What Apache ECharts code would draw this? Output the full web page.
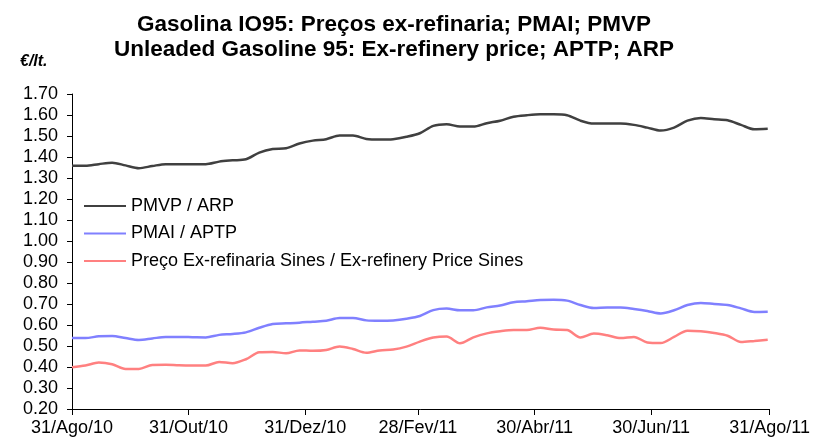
<!DOCTYPE html>
<html>
<head>
<meta charset="utf-8">
<script src="https://cdn.jsdelivr.net/npm/echarts@6/dist/echarts.min.js"></script>
<style>
  html, body { margin: 0; padding: 0; background: #fff; }
  #chart { width: 813px; height: 439px; }
</style>
</head>
<body>
<div id="chart"></div>
<script>
// semanas (terças-feiras)
var dates = [
  '2010-08-31', '2010-09-07', '2010-09-14', '2010-09-21', '2010-09-28', '2010-10-05', '2010-10-12',
  '2010-10-19', '2010-10-26', '2010-11-02', '2010-11-09', '2010-11-16', '2010-11-23', '2010-11-30',
  '2010-12-07', '2010-12-14', '2010-12-21', '2010-12-28', '2011-01-04', '2011-01-11', '2011-01-18',
  '2011-01-25', '2011-02-01', '2011-02-08', '2011-02-15', '2011-02-22', '2011-03-01', '2011-03-08',
  '2011-03-15', '2011-03-22', '2011-03-29', '2011-04-05', '2011-04-12', '2011-04-19', '2011-04-26',
  '2011-05-03', '2011-05-10', '2011-05-17', '2011-05-24', '2011-05-31', '2011-06-07', '2011-06-14',
  '2011-06-21', '2011-06-28', '2011-07-05', '2011-07-12', '2011-07-19', '2011-07-26', '2011-08-02',
  '2011-08-09', '2011-08-16', '2011-08-23', '2011-08-30'
];

var pmvp = [
  1.358, 1.358, 1.366, 1.373, 1.360, 1.347, 1.357, 1.366, 1.366, 1.366, 1.366, 1.378, 1.384, 1.389,
  1.421, 1.438, 1.442, 1.464, 1.478, 1.485, 1.502, 1.502, 1.486, 1.483, 1.485, 1.496, 1.513, 1.548,
  1.556, 1.545, 1.545, 1.561, 1.573, 1.592, 1.599, 1.603, 1.603, 1.599, 1.573, 1.559, 1.560, 1.560,
  1.553, 1.540, 1.526, 1.540, 1.573, 1.586, 1.580, 1.575, 1.553, 1.532, 1.534
];

var pmai = [
  0.538, 0.538, 0.546, 0.548, 0.538, 0.529, 0.536, 0.543, 0.543, 0.542, 0.541, 0.553, 0.557, 0.565,
  0.587, 0.605, 0.608, 0.611, 0.616, 0.620, 0.633, 0.633, 0.622, 0.620, 0.622, 0.630, 0.643, 0.671,
  0.678, 0.670, 0.670, 0.684, 0.693, 0.708, 0.713, 0.719, 0.720, 0.716, 0.695, 0.681, 0.683, 0.683,
  0.676, 0.667, 0.655, 0.670, 0.695, 0.705, 0.700, 0.695, 0.679, 0.662, 0.663
];

var sines = [
  0.399, 0.407, 0.421, 0.413, 0.391, 0.391, 0.410, 0.411, 0.408, 0.407, 0.407, 0.424, 0.418, 0.437,
  0.470, 0.472, 0.465, 0.479, 0.477, 0.481, 0.498, 0.486, 0.468, 0.479, 0.483, 0.497, 0.521, 0.540,
  0.545, 0.513, 0.541, 0.560, 0.570, 0.576, 0.576, 0.587, 0.578, 0.576, 0.541, 0.559, 0.551, 0.538,
  0.543, 0.517, 0.514, 0.543, 0.573, 0.570, 0.562, 0.549, 0.519, 0.524, 0.530
];

var tickDates = ['2010-08-31', '2010-10-31', '2010-12-31', '2011-02-28', '2011-04-30', '2011-06-30', '2011-08-31'];
var tickLabels = ['31/Ago/10', '31/Out/10', '31/Dez/10', '28/Fev/11', '30/Abr/11', '30/Jun/11', '31/Ago/11'];

var FONT = '"Liberation Sans", Arial, sans-serif';
var t0 = Date.parse(dates[0]);
function dayOf (d) { return Math.round((Date.parse(d) - t0) / 864e5) }

var tickDays = tickDates.map(dayOf);
function pairs (vals) { return vals.map(function (v, i) { return [dayOf(dates[i]), v] }) }

var myChart = echarts.init(document.getElementById('chart'), null, { renderer: 'canvas' });

var option = {
  backgroundColor: '#fff',
  animation: false,
  title: {
    text: 'Gasolina IO95: Preços ex-refinaria; PMAI; PMVP\nUnleaded Gasoline 95: Ex-refinery price; APTP; ARP',
    left: 389,
    top: 7,
    textAlign: 'center',
    textStyle: { fontFamily: FONT, fontSize: 22.5, fontWeight: 'bold', color: '#000', lineHeight: 25 }
  },
  graphic: [{
    type: 'text',
    left: 20,
    top: 54,
    style: { text: '€/lt.', font: 'italic bold 16px ' + FONT, fill: '#000' }
  }],
  legend: {
    orient: 'vertical',
    left: 78,
    top: 192,
    itemWidth: 42,
    itemHeight: 16,
    itemGap: 9.5,
    itemStyle: { color: 'transparent', borderWidth: 0 },
    textStyle: { fontFamily: FONT, fontSize: 18, color: '#000' },
    data: ['PMVP / ARP', 'PMAI / APTP', 'Preço Ex-refinaria Sines / Ex-refinery Price Sines']
  },
  grid: { left: 72, right: 43, top: 94, bottom: 30, containLabel: false },
  xAxis: {
    type: 'value',
    min: 0,
    max: 365,
    splitLine: { show: false },
    axisLine: { lineStyle: { color: '#000', width: 1 } },
    axisTick: { customValues: tickDays, length: 6, lineStyle: { color: '#000' } },
    axisLabel: {
      customValues: tickDays,
      margin: 10,
      fontFamily: FONT,
      fontSize: 18,
      color: '#000',
      formatter: function (v) { return tickLabels[tickDays.indexOf(v)] }
    }
  },
  yAxis: {
    type: 'value',
    min: 0.2,
    max: 1.7,
    interval: 0.1,
    splitLine: { show: false },
    axisLine: { show: true, lineStyle: { color: '#000', width: 1 } },
    axisTick: { show: true, length: 5, lineStyle: { color: '#000' } },
    axisLabel: {
      margin: 14,
      fontFamily: FONT,
      fontSize: 18,
      color: '#000',
      formatter: function (v) { return v.toFixed(2) }
    }
  },
  series: [
    {
      name: 'PMVP / ARP',
      type: 'line',
      symbol: 'none',
      smooth: 0.3,
      lineStyle: { color: '#404040', width: 2.5 },
      itemStyle: { color: '#404040' },
      data: pairs(pmvp)
    },
    {
      name: 'PMAI / APTP',
      type: 'line',
      symbol: 'none',
      smooth: 0.3,
      lineStyle: { color: '#8080ff', width: 2.5 },
      itemStyle: { color: '#8080ff' },
      data: pairs(pmai)
    },
    {
      name: 'Preço Ex-refinaria Sines / Ex-refinery Price Sines',
      type: 'line',
      symbol: 'none',
      smooth: 0.3,
      lineStyle: { color: '#ff8080', width: 2.5 },
      itemStyle: { color: '#ff8080' },
      data: pairs(sines)
    }
  ]
};
myChart.setOption(option);
</script>
</body>
</html>
